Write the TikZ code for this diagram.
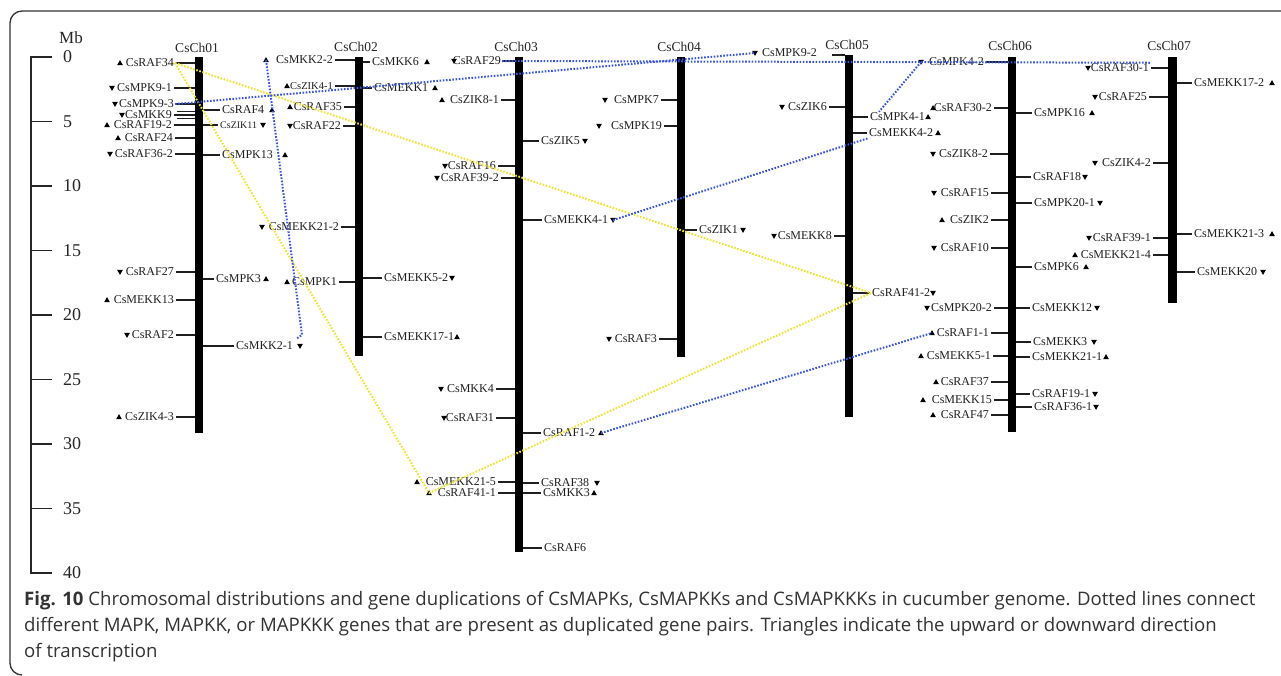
\documentclass[tikz,border=0pt]{standalone}
\usepackage{fontspec}
\setmainfont{Liberation Serif}
\newfontfamily\capfont{Open Sans}
\usetikzlibrary{calc}
\definecolor{dotblue}{RGB}{55,85,225}
\definecolor{dotyellow}{RGB}{240,228,50}
\tikzset{
  gene/.style={font=\fontsize{12}{12}\selectfont, inner sep=1pt, text=black!88},
  tk/.style={line width=1.8pt, black!88},
  thintk/.style={line width=1.1pt, black!88},
  chrom/.style={fill=black},
  chtitle/.style={font=\fontsize{13.5}{14}\selectfont, inner sep=0pt, text=black!85},
  axis/.style={line width=1.6pt, black!85},
  mbnum/.style={font=\fontsize{18}{18}\selectfont, inner sep=1pt, text=black!85},
  captext/.style={font=\capfont\fontsize{18.6}{22}\selectfont, inner sep=0pt, text=black!80},
  tup/.pic={\fill[black] (-2.9,2.2) -- (2.9,2.2) -- (0,-2.9) -- cycle;},
  tdn/.pic={\fill[black] (-2.9,-2.2) -- (2.9,-2.2) -- (0,2.9) -- cycle;},
  tnone/.pic={},
  bdot/.style={dotblue, line width=2pt, dash pattern=on 1.6pt off 1.6pt},
  ydot/.style={dotyellow, line width=2pt, dash pattern=on 1.6pt off 1.6pt},
}
% left gene: name, text, y, label right x, bar left x, dir, triangle x
\newcommand\GL[7]{%
  \node[gene,anchor=east] (#1) at (#4,#3) {#2};
  \draw[tk] (#4+1,#3) -- (#5,#3);
  \coordinate (#1t) at (#7,#3);
  \pic at (#1t) {t#6};
}
% right gene: name, text, y, label left x, bar right x, dir, triangle x
\newcommand\GR[7]{%
  \node[gene,anchor=west] (#1) at (#4,#3) {#2};
  \draw[tk] (#5,#3) -- (#4-1,#3);
  \coordinate (#1t) at (#7,#3);
  \pic at (#1t) {t#6};
}
\begin{document}
\begin{tikzpicture}[x=1pt,y=-1pt]
\useasboundingbox (0,0) rectangle (1281,675);
\fill[white] (0,0) rectangle (1281,675);
\clip (0,0) rectangle (1281,675);
% frame
\draw[line width=1.3pt, black!80] (1290,11) -- (22,11) arc[start angle=270, end angle=180, radius=12] -- (10,663) arc[start angle=180, end angle=90, radius=12];
% Mb axis
\node[font=\fontsize{17}{17}\selectfont, inner sep=0pt, text=black!85] (mb) at (71,37.5) {Mb};
\draw[axis] (31,57) -- (31,{57+12.9*40});
\foreach \v in {0,5,...,40} {
  \draw[axis] (30.2,{57+12.9*\v}) -- (52,{57+12.9*\v});
  \node[mbnum,anchor=west] (mb\v) at (62,{57+12.9*\v}) {\v};
}
% chromosomes
\fill[chrom] (195,57) rectangle (203,433);
\fill[chrom] (355,57) rectangle (363,356);
\fill[chrom] (515,57) rectangle (523,552);
\fill[chrom] (677,57) rectangle (685,357);
\fill[chrom] (845,55) rectangle (853,417);
\fill[chrom] (1008,57) rectangle (1016,432);
\fill[chrom] (1168,57) rectangle (1177,303);
\node[chtitle] (ch1) at (197,48) {CsCh01};
\node[chtitle] (ch2) at (356,47) {CsCh02};
\node[chtitle] (ch3) at (516,47) {CsCh03};
\node[chtitle] (ch4) at (679,47) {CsCh04};
\node[chtitle] (ch5) at (847,45) {CsCh05};
\node[chtitle] (ch6) at (1010,46) {CsCh06};
\node[chtitle] (ch7) at (1169,46) {CsCh07};
% CsCh01
\GL{raf34}{CsRAF34}{63}{175}{195}{up}{120}
\GL{mpk91}{CsMPK9-1}{88}{173}{195}{dn}{112}
\GL{mpk93}{CsMPK9-3}{104}{175}{195}{dn}{115}
\draw[thintk] (177,111.8) -- (195,111.8);
\draw[thintk] (177,118.2) -- (195,118.2);
\GL{mkk9}{CsMKK9}{115}{173}{195}{dn}{122}
\GL{raf192}{CsRAF19-2}{125}{173}{195}{up}{107}
\GL{raf24}{CsRAF24}{138}{174}{195}{up}{118}
\GL{raf362}{CsRAF36-2}{154}{174}{195}{dn}{110}
\GL{raf27}{CsRAF27}{272}{175}{195}{dn}{120}
\GL{mekk13}{CsMEKK13}{300}{175}{195}{up}{107}
\GL{raf2}{CsRAF2}{335}{175}{195}{dn}{127}
\GL{zik43}{CsZIK4-3}{417}{175}{195}{up}{119}
\GR{raf4}{CsRAF4}{110}{221}{203}{up}{272}
\GR{zik11}{\fontsize{10}{10}\selectfont CsZIK11}{125}{219}{203}{dn}{263}
\GR{mpk13}{CsMPK13}{155}{221}{203}{up}{285}
\GR{mpk3}{CsMPK3}{279}{215}{203}{up}{266}
\GR{mkk21}{CsMKK2-1}{346}{235}{203}{dn}{300}
% CsCh02
\GL{mkk22}{CsMKK2-2}{60}{334}{355}{up}{266}
\GL{zik41}{\fontsize{10.5}{10}\selectfont CsZIK4-1}{86}{334}{355}{up}{287}
\GL{raf35}{CsRAF35}{107}{343}{355}{up}{290}
\GL{raf22}{CsRAF22}{126}{342}{355}{dn}{290}
\GL{mekk212}{CsMEKK21-2}{227}{340}{355}{dn}{262}
\GL{mpk1}{CsMPK1}{282}{338}{355}{up}{287}
\GR{mkk6}{CsMKK6}{62}{371}{363}{up}{427}
\GR{mekk1}{CsMEKK1}{88}{373}{363}{up}{435}
\GR{mekk52}{CsMEKK5-2}{278}{383}{363}{dn}{452}
\GR{mekk171}{CsMEKK17-1}{337}{383}{363}{up}{457}
% CsCh03
\GL{raf29}{CsRAF29}{61}{502}{515}{dn}{454}
\GL{zik81}{CsZIK8-1}{100}{500}{515}{up}{442}
\GL{raf16}{CsRAF16}{166}{497}{515}{dn}{445}
\GL{raf392}{CsRAF39-2}{178}{500}{515}{dn}{437}
\GL{mkk4}{CsMKK4}{389}{495}{515}{dn}{441}
\GL{raf31}{CsRAF31}{418}{495}{515}{dn}{444}
\GL{mekk215}{CsMEKK21-5}{482}{497}{515}{up}{417}
\GL{raf411}{CsRAF41-1}{493}{497}{515}{up}{429}
\GR{zik5}{CsZIK5}{141}{540}{523}{dn}{585}
\GR{mekk41}{CsMEKK4-1}{220}{543}{523}{dn}{613}
\GR{raf12}{CsRAF1-2}{433}{542}{523}{up}{601}
\GR{raf38}{CsRAF38}{483}{540}{523}{dn}{597}
\GR{mkk3}{CsMKK3}{493}{542}{523}{up}{594}
\GR{raf6}{CsRAF6}{548}{543}{523}{none}{585}
% CsCh04
\GL{mpk7}{CsMPK7}{100}{660}{677}{dn}{605}
\GL{mpk19}{CsMPK19}{126}{663}{677}{dn}{599}
\GL{raf3}{CsRAF3}{339}{658}{677}{dn}{609}
\GR{zik1}{CsZIK1}{230}{698}{685}{dn}{743}
% CsCh05
\node[gene,anchor=east] (mpk92) at (818,53) {CsMPK9-2};
\draw[tk] (832,55) -- (845,55);
\coordinate (mpk92t) at (755,53);
\pic at (mpk92t) {tdn};
\GL{zik6}{CsZIK6}{107}{828}{845}{dn}{782}
\GL{mekk8}{CsMEKK8}{236}{833}{845}{dn}{774}
\GR{mpk41}{CsMPK4-1}{117}{869}{853}{up}{928}
\GR{mekk42}{CsMEKK4-2}{133}{868}{853}{up}{938}
\GR{raf412}{CsRAF41-2}{293}{871}{853}{dn}{933}
% CsCh06
\GL{mpk42}{CsMPK4-2}{62}{985}{1008}{dn}{921}
\GL{raf302}{CsRAF30-2}{108}{993}{1008}{up}{933}
\GL{zik82}{CsZIK8-2}{154}{989}{1008}{dn}{933}
\GL{raf15}{CsRAF15}{193}{990}{1008}{dn}{934}
\GL{zik2}{CsZIK2}{220}{990}{1008}{up}{942}
\GL{raf10}{CsRAF10}{248}{990}{1008}{dn}{934}
\GL{mpk202}{CsMPK20-2}{308}{993}{1008}{dn}{927}
\GL{raf11}{CsRAF1-1}{333}{990}{1008}{up}{932}
\GL{mekk51}{CsMEKK5-1}{356}{992}{1008}{up}{921}
\GL{raf37}{CsRAF37}{382}{990}{1008}{up}{936}
\GL{mekk15}{CsMEKK15}{400}{993}{1008}{up}{923}
\GL{raf47}{CsRAF47}{415}{990}{1008}{up}{933}
\GR{mpk16}{CsMPK16}{113}{1033}{1016}{up}{1092}
\GR{raf18}{CsRAF18}{177}{1032}{1016}{dn}{1085}
\GR{mpk201}{CsMPK20-1}{203}{1033}{1016}{dn}{1100}
\GR{mpk6}{CsMPK6}{267}{1033}{1016}{up}{1086}
\GR{mekk12}{CsMEKK12}{308}{1031}{1016}{dn}{1097}
\GR{mekk3}{CsMEKK3}{342}{1032}{1016}{dn}{1094}
\GR{mekk211}{CsMEKK21-1}{357}{1031}{1016}{up}{1106}
\GR{raf191}{CsRAF19-1}{394}{1031}{1016}{dn}{1095}
\GR{raf361}{CsRAF36-1}{407}{1033}{1016}{dn}{1096}
% CsCh07
\GL{raf301}{CsRAF30-1}{68}{1150}{1168}{dn}{1088}
\GL{raf25}{CsRAF25}{97}{1148}{1168}{dn}{1095}
\GL{zik42}{CsZIK4-2}{163}{1152}{1168}{dn}{1095}
\GL{raf391}{CsRAF39-1}{238}{1152}{1168}{dn}{1089}
\GL{mekk214}{CsMEKK21-4}{255}{1152}{1168}{up}{1075}
\GR{mekk172}{CsMEKK17-2}{83}{1193}{1177}{up}{1272}
\GR{mekk213}{CsMEKK21-3}{234}{1193}{1177}{up}{1272}
\GR{mekk20}{CsMEKK20}{272}{1196}{1177}{dn}{1263}
% duplication links
\coordinate (mkkbend) at (302,335);
\coordinate (mkk21top) at (296,339);
\draw[ydot] (raf34.east) -- (raf412.west);
\draw[ydot] (raf34.east) -- (raf411t);
\draw[ydot] (raf411t) -- (raf412.west);
\draw[bdot] (mkk22t) -- (mkkbend) -- (mkk21top);
\draw[bdot] (mpk93.east) -- (mpk92t);
\draw[bdot] (raf29.east) -- (raf301.north east);
\draw[bdot] (mpk42t) -- ([xshift=10pt]mpk41.north west);
\draw[bdot] (mekk41t) -- (mekk42.south west);
\draw[bdot] (raf12t) -- (raf11t);
% caption
\node[captext, anchor=base west] (cap1) at (24,605) {\textbf{Fig. 10} Chromosomal distributions and gene duplications of CsMAPKs, CsMAPKKs and CsMAPKKKs in cucumber genome. Dotted lines connect};
\node[captext, anchor=base west] (cap2) at (24,631) {different MAPK, MAPKK, or MAPKKK genes that are present as duplicated gene pairs. Triangles indicate the upward or downward direction};
\node[captext, anchor=base west] (cap3) at (24,657) {of transcription};
\end{tikzpicture}
\end{document}
